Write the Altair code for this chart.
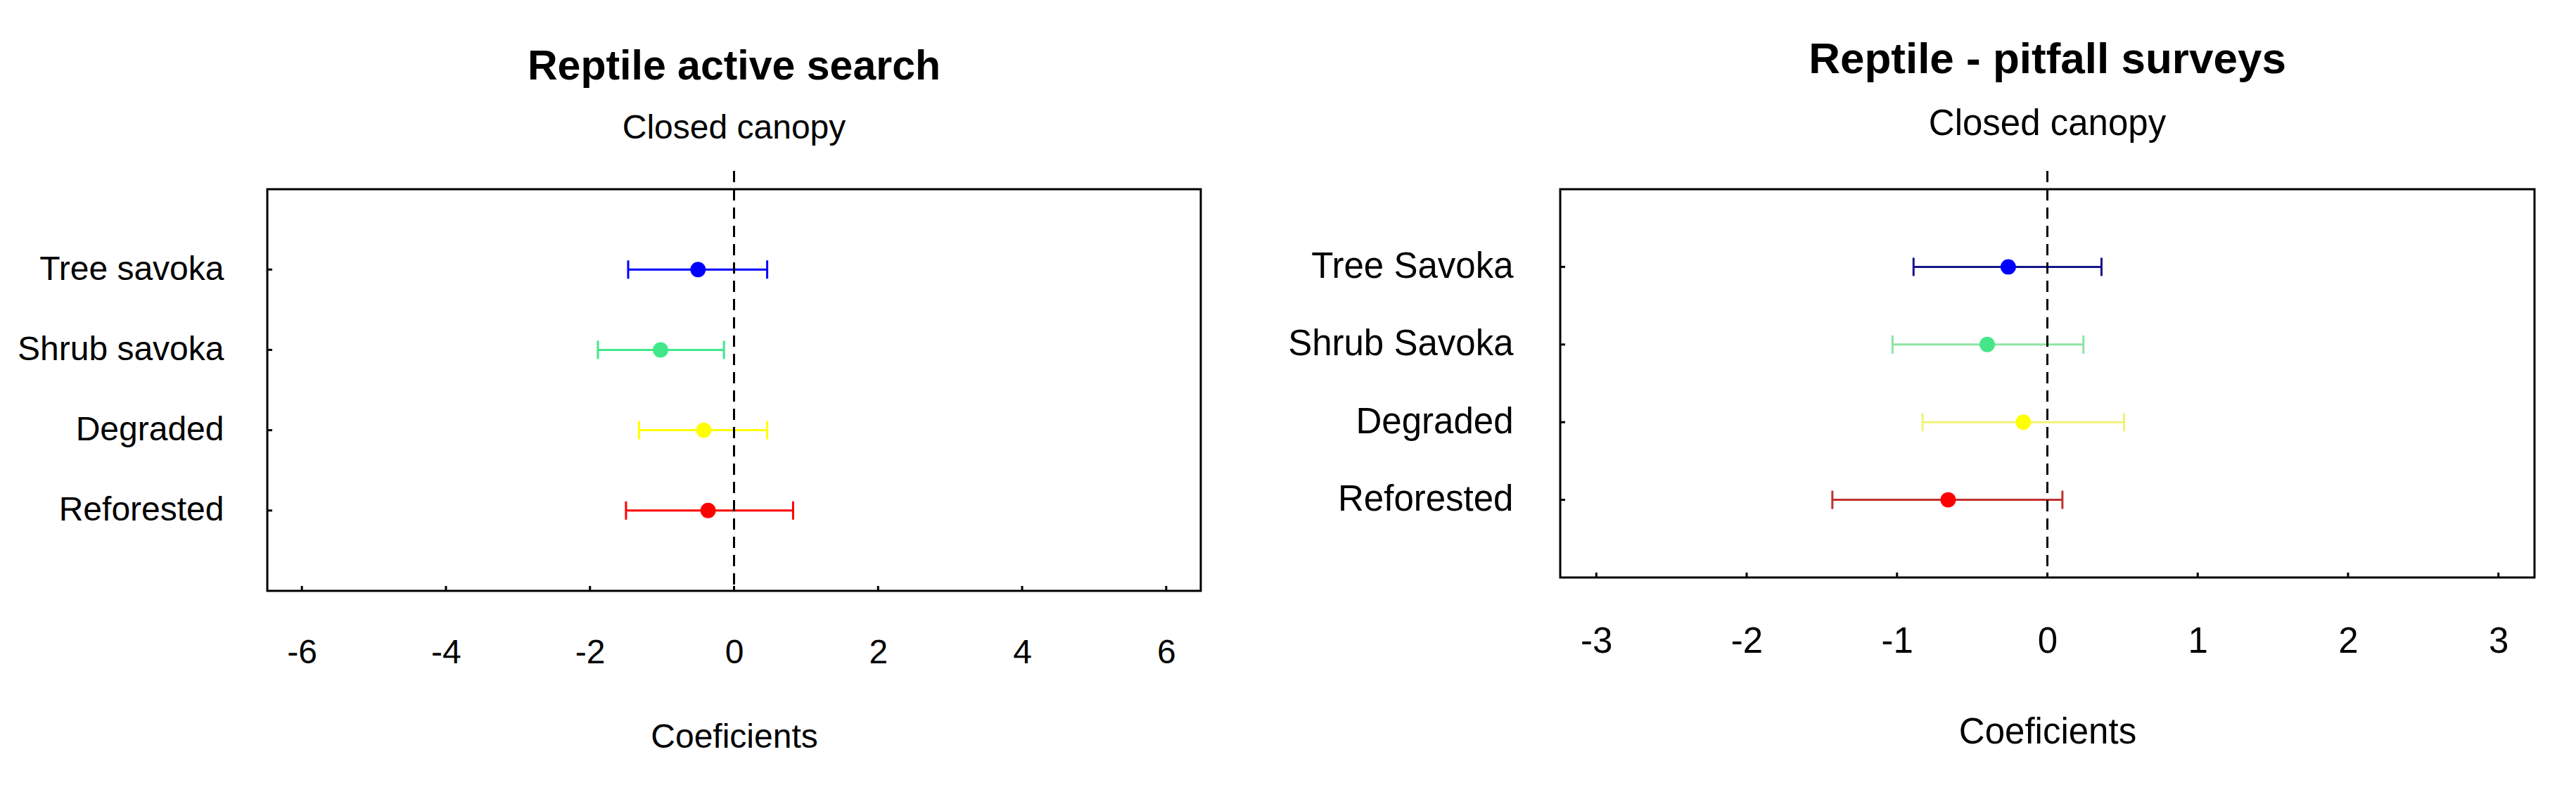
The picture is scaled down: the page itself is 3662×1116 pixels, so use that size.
import altair as alt
import pandas as pd

# ---- data ----
left_cats = ["Tree savoka", "Shrub savoka", "Degraded", "Reforested"]
left_est = [-0.50, -1.02, -0.42, -0.36]
left_lo = [-1.47, -1.89, -1.32, -1.50]
left_hi = [0.46, -0.14, 0.46, 0.82]
left_bar_colors = ["#0000FF", "#40E88A", "#FFFF00", "#FF0000"]
left_pt_colors = ["#0000FF", "#40E88A", "#FFFF00", "#FF0000"]
left_ticks = [-6, -4, -2, 0, 2, 4, 6]

right_cats = ["Tree Savoka", "Shrub Savoka", "Degraded", "Reforested"]
right_est = [-0.26, -0.40, -0.16, -0.66]
right_lo = [-0.89, -1.03, -0.83, -1.43]
right_hi = [0.36, 0.24, 0.51, 0.10]
right_bar_colors = ["#15158C", "#8EE3A4", "#F2F27A", "#C0302E"]
right_pt_colors = ["#0000FF", "#45E688", "#FFFF00", "#FF0000"]
right_ticks = [-3, -2, -1, 0, 1, 2, 3]

FONT = "Liberation Sans"


def panel(cats, est, lo, hi, bar_cols, pt_cols, ticks, domain, w, h,
          title, tfs, fs, sub_pad, offset, lab_pad, xlab_pad, xtitle_pad):
    df = pd.DataFrame({"cat": cats, "est": est, "lo": lo, "hi": hi,
                       "bar": bar_cols, "pt": pt_cols})
    tdf = pd.DataFrame({"t": ticks})
    zdf = pd.DataFrame({"z": [0]})
    xs = alt.Scale(domain=domain, nice=False, zero=False)
    ys = alt.Scale(type="point", domain=cats, padding=1.25)
    yax = alt.Axis(title=None, labelFontSize=fs, labelFont=FONT, labelColor="black",
                   labelPadding=lab_pad, labelLimit=0, ticks=False, domain=False, grid=False)
    xax = alt.Axis(title="Coeficients", values=ticks, labelExpr="'' + datum.value",
                   labelFontSize=fs, labelFont=FONT, labelColor="black",
                   labelPadding=xlab_pad, titleFontSize=fs, titleFont=FONT,
                   titleFontWeight="normal", titleColor="black", titlePadding=xtitle_pad,
                   ticks=False, domain=False, grid=False, labelFlush=False)
    base = alt.Chart(df)
    bars = base.mark_rule(strokeWidth=3).encode(
        x=alt.X("lo:Q", scale=xs, axis=xax),
        x2="hi:Q",
        y=alt.Y("cat:N", scale=ys, axis=yax, sort=cats),
        color=alt.Color("bar:N", scale=None),
    )
    cap_lo = base.mark_tick(size=26, thickness=3, orient="vertical", opacity=1).encode(
        x=alt.X("lo:Q", scale=xs), y=alt.Y("cat:N", scale=ys),
        color=alt.Color("bar:N", scale=None))
    cap_hi = base.mark_tick(size=26, thickness=3, orient="vertical", opacity=1).encode(
        x=alt.X("hi:Q", scale=xs), y=alt.Y("cat:N", scale=ys),
        color=alt.Color("bar:N", scale=None))
    pts = base.mark_point(filled=True, shape="circle", size=480, opacity=1).encode(
        x=alt.X("est:Q", scale=xs), y=alt.Y("cat:N", scale=ys),
        fill=alt.Fill("pt:N", scale=None))
    zero = alt.Chart(zdf).mark_rule(strokeDash=[16, 10], strokeWidth=3, color="black").encode(
        x=alt.X("z:Q", scale=xs), y=alt.value(-26), y2=alt.value(h))
    xt = alt.Chart(tdf).mark_rule(strokeWidth=3, color="black").encode(
        x=alt.X("t:Q", scale=xs), y=alt.value(h - 7), y2=alt.value(h))
    yt = base.mark_rule(strokeWidth=3, color="black").encode(
        y=alt.Y("cat:N", scale=ys), x=alt.value(0), x2=alt.value(7))
    return alt.layer(bars, zero, cap_lo, cap_hi, pts, xt, yt).properties(
        width=w, height=h,
        title=alt.TitleParams(text=title, subtitle="Closed canopy", font=FONT,
                              fontSize=tfs, fontWeight="bold", color="black",
                              subtitleFont=FONT, subtitleFontSize=fs,
                              subtitleColor="black", subtitlePadding=sub_pad,
                              offset=offset, anchor="middle"))


left = panel(left_cats, left_est, left_lo, left_hi, left_bar_colors, left_pt_colors,
             left_ticks, [-6.48, 6.48], 1327, 571, "Reptile active search",
             59, 48, 34, 35, 62, 64, 72)
right = panel(right_cats, right_est, right_lo, right_hi, right_bar_colors, right_pt_colors,
              right_ticks, [-3.24, 3.24], 1385, 552, "Reptile - pitfall surveys",
              62, 51, 35, 39, 67, 66, 79)

chart = alt.hconcat(left, right, spacing=511, bounds="flush").properties(
    padding={"left": 14, "top": 44, "right": 5, "bottom": 5}
).configure(
    background="white",
    view=alt.ViewConfig(stroke="black", strokeWidth=3),
)

chart.save("out.html", embed_options={"renderer": "svg", "actions": False})
